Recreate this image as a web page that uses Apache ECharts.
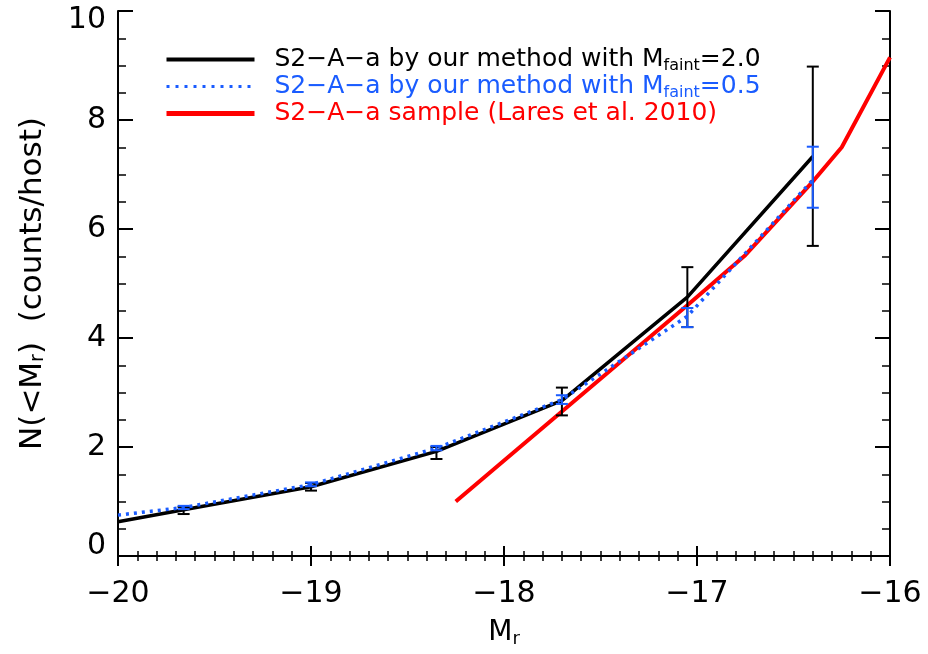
<!DOCTYPE html>
<html>
<head>
<meta charset="utf-8">
<script src="https://cdn.jsdelivr.net/npm/echarts@6/dist/echarts.min.js"></script>
<style>html,body{margin:0;padding:0;background:#fff}#c{width:928px;height:654px}</style>
</head>
<body>
<div id="c"></div>
<script>
// ---- data ----
const xTicks = [-20, -19, -18, -17, -16];
const yTicks = [0, 2, 4, 6, 8, 10];

const blackX = [-20.0, -19.66, -19.0, -18.35, -17.7, -17.05, -16.4];
const blackY = [0.63, 0.85, 1.27, 1.92, 2.85, 4.75, 7.33];
const blackErrX = [-19.66, -19.0, -18.35, -17.7, -17.05, -16.4];
const blackErrLo = [0.77, 1.20, 1.78, 2.58, 4.20, 5.69];
const blackErrHi = [0.90, 1.34, 2.00, 3.09, 5.30, 8.98];

const blueX = [-20.0, -19.66, -19.0, -18.35, -17.7, -17.05, -16.4];
const blueY = [0.75, 0.89, 1.31, 1.98, 2.87, 4.40, 6.90];
const blueErrX = [-19.66, -19.0, -18.35, -17.7, -17.05, -16.4];
const blueErrLo = [0.86, 1.28, 1.94, 2.79, 4.20, 6.39];
const blueErrHi = [0.92, 1.35, 2.02, 2.95, 4.55, 7.51];

const redX = [-18.25, -17.7, -17.05, -16.75, -16.4, -16.25, -16.0];
const redY = [1.00, 2.65, 4.60, 5.52, 6.87, 7.50, 9.15];

const legendText = {
  black: '{t|S2−A−a by our method with M}{s|faint}{t|=2.0}',
  blue: '{t|S2−A−a by our method with M}{s|faint}{t|=0.5}',
  red: '{t|S2−A−a sample (Lares et al. 2010)}'
};

const BLACK = '#000000', BLUE = '#1a5cff', RED = '#ff0000';
const NONE = 'rgba(0,0,0,0)';
const FONT = 'DejaVu Sans';

function zip(a, b) { return a.map((v, i) => [v, b[i]]); }
function errData(x, lo, hi) { return x.map((v, i) => [v, lo[i], hi[i]]); }

function errSeries(name, data, color, z) {
  return {
    type: 'custom', name: name + '_err', data: data, z: z,
    renderItem: function (params, api) {
      const x = api.value(0), lo = api.value(1), hi = api.value(2);
      const p1 = api.coord([x, lo]), p2 = api.coord([x, hi]);
      const w = 6;
      const st = { stroke: color, lineWidth: 2 };
      return {
        type: 'group', children: [
          { type: 'line', shape: { x1: p1[0], y1: p1[1], x2: p2[0], y2: p2[1] }, style: st },
          { type: 'line', shape: { x1: p1[0] - w, y1: p1[1], x2: p1[0] + w, y2: p1[1] }, style: st },
          { type: 'line', shape: { x1: p2[0] - w, y1: p2[1], x2: p2[0] + w, y2: p2[1] }, style: st }
        ]
      };
    }
  };
}

const minus = v => String(v).replace('-', '−');

const chart = echarts.init(document.getElementById('c'), null, { renderer: 'canvas' });

const axisCommon = {
  axisLine: { show: true, lineStyle: { color: '#000', width: 2 } },
  splitLine: { show: false }
};

const option = {
  animation: false,
  backgroundColor: '#fff',
  grid: { left: 118, right: 38, top: 11, bottom: 98 },
  xAxis: [
    Object.assign({}, axisCommon, {
      type: 'value', min: -20, max: -16, interval: 1, position: 'bottom',
      axisTick: { show: true, inside: true, length: 10, lineStyle: { color: '#000', width: 2 } },
      minorTick: { show: true, splitNumber: 10, length: 5, lineStyle: { color: '#000', width: 1.5 } },
      axisLabel: { show: true, color: '#000', fontFamily: FONT, fontSize: 30, margin: 23,
        formatter: v => minus(v) },
      name: '{m|M}{s|r}', nameLocation: 'middle', nameGap: 62,
      nameTextStyle: { color: '#000', fontFamily: FONT, fontSize: 28,
        rich: {
          m: { fontSize: 28, fontFamily: FONT, color: '#000', lineHeight: 30 },
          s: { fontSize: 18, fontFamily: FONT, color: '#000', verticalAlign: 'bottom', lineHeight: 4 }
        } }
    }),
    Object.assign({}, axisCommon, {
      type: 'value', min: -20, max: -16, interval: 1, position: 'top',
      axisTick: { show: true, inside: true, length: 10, lineStyle: { color: '#000', width: 2 } },
      minorTick: { show: true, splitNumber: 10, length: 5, lineStyle: { color: '#000', width: 1.5 } },
      axisLabel: { show: false }
    })
  ],
  yAxis: [
    Object.assign({}, axisCommon, {
      type: 'value', min: 0, max: 10, interval: 2, position: 'left',
      axisTick: { show: true, inside: true, length: 15, lineStyle: { color: '#000', width: 2 } },
      minorTick: { show: true, splitNumber: 4, length: 8, lineStyle: { color: '#000', width: 1.5 } },
      axisLabel: { show: true, color: '#000', fontFamily: FONT, fontSize: 30, margin: 12,
        formatter: v => v === 0 ? '{lo|0}' : (v === 10 ? '{hi|10}' : String(v)),
        rich: {
          lo: { fontFamily: FONT, fontSize: 30, color: '#000', padding: [0, 0, 20, 0] },
          hi: { fontFamily: FONT, fontSize: 30, color: '#000', padding: [18, 0, 0, 0] }
        } },
      name: 'N(<M{s|r})  (counts/host)', nameLocation: 'middle', nameGap: 70,
      nameTextStyle: { color: '#000', fontFamily: FONT, fontSize: 31,
        rich: { s: { fontSize: 19, fontFamily: FONT, color: '#000', verticalAlign: 'bottom', lineHeight: 4 } } }
    }),
    Object.assign({}, axisCommon, {
      type: 'value', min: 0, max: 10, interval: 2, position: 'right',
      axisTick: { show: true, inside: true, length: 15, lineStyle: { color: '#000', width: 2 } },
      minorTick: { show: true, splitNumber: 4, length: 8, lineStyle: { color: '#000', width: 1.5 } },
      axisLabel: { show: false }
    })
  ],
  legend: {
    show: true, orient: 'vertical', left: 164, top: 47, itemGap: 0,
    itemWidth: 88, itemHeight: 29, padding: 0,
    selectedMode: false,
    itemStyle: { color: NONE, opacity: 0, borderWidth: 0 },
    data: [
      { name: 'black', textStyle: { color: BLACK }, lineStyle: { color: BLACK, width: 4 } },
      { name: 'blue', textStyle: { color: BLUE }, lineStyle: { color: BLUE, width: 3, type: [3, 6] } },
      { name: 'red', textStyle: { color: RED }, lineStyle: { color: RED, width: 5 } }
    ],
    formatter: n => legendText[n],
    textStyle: {
      fontFamily: FONT, fontSize: 25, padding: [0, 0, 0, 15],
      rich: {
        t: { fontFamily: FONT, fontSize: 25, lineHeight: 29 },
        s: { fontFamily: FONT, fontSize: 16, lineHeight: 8, verticalAlign: 'bottom' }
      }
    }
  },
  series: [
    { name: 'red', type: 'line', data: zip(redX, redY), symbol: 'none', z: 3,
      lineStyle: { color: RED, width: 4 }, itemStyle: { color: NONE } },
    { name: 'black', type: 'line', data: zip(blackX, blackY), symbol: 'none', z: 4,
      lineStyle: { color: BLACK, width: 3.5 }, itemStyle: { color: NONE } },
    errSeries('black', errData(blackErrX, blackErrLo, blackErrHi), BLACK, 5),
    { name: 'blue', type: 'line', data: zip(blueX, blueY), symbol: 'none', z: 6,
      lineStyle: { color: BLUE, width: 3.5, type: [3, 5], cap: 'butt' }, itemStyle: { color: NONE } },
    errSeries('blue', errData(blueErrX, blueErrLo, blueErrHi), BLUE, 7)
  ]
};
chart.setOption(option);
</script>
</body>
</html>
